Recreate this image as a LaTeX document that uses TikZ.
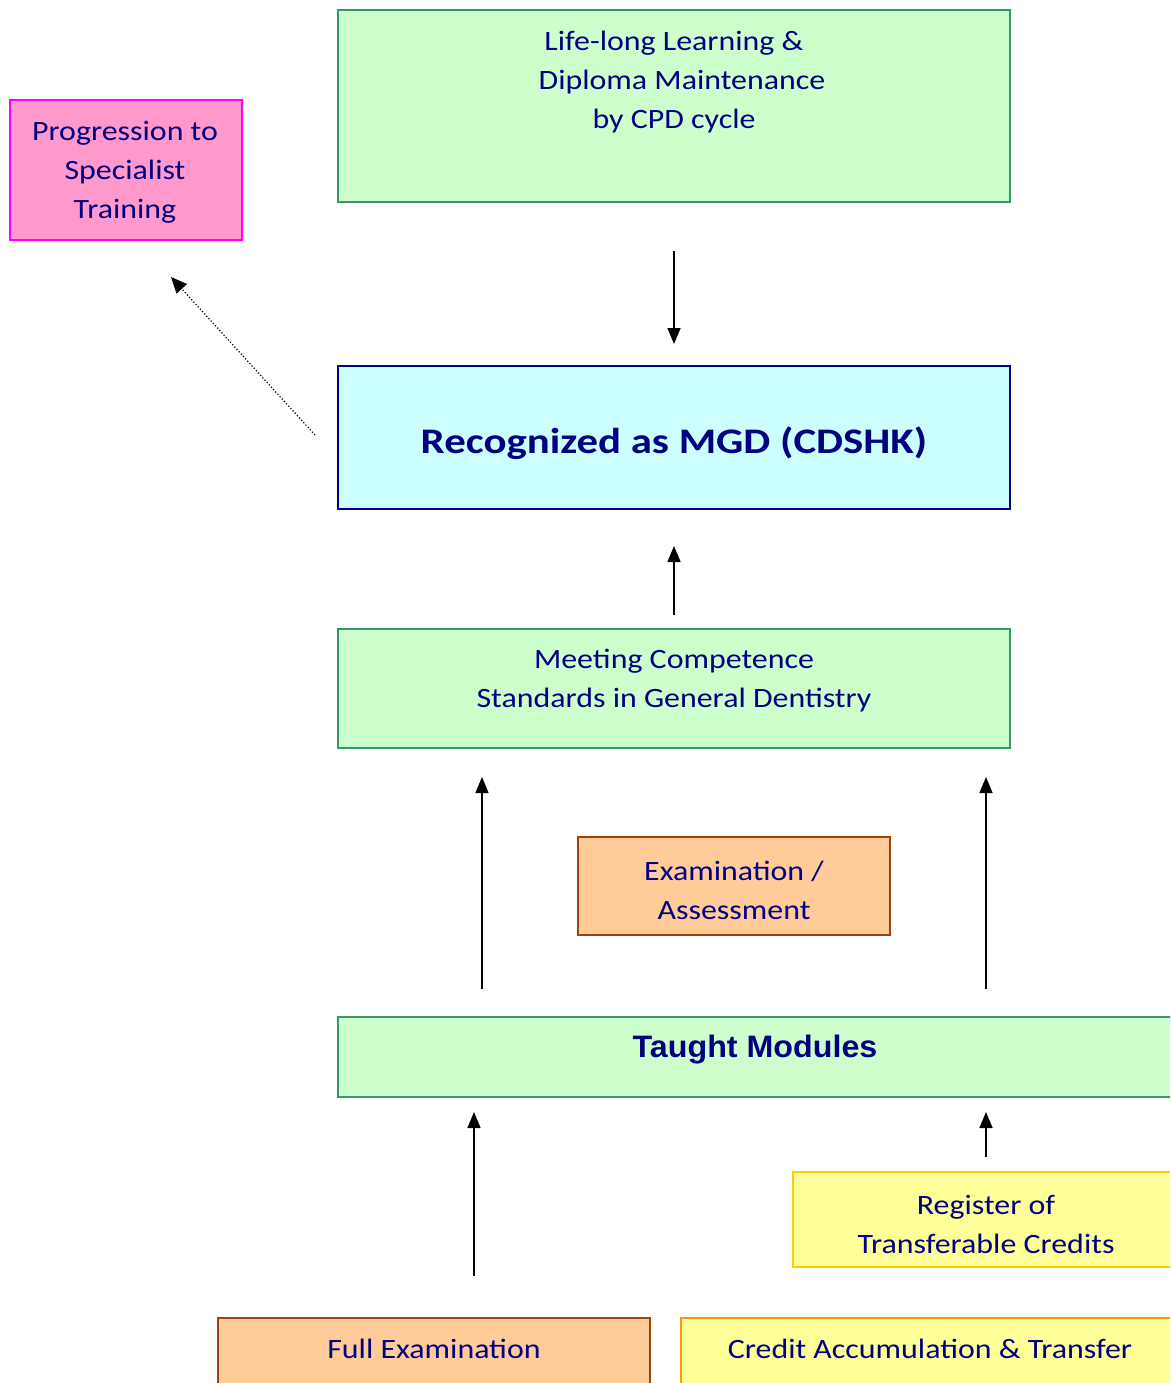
\documentclass[tikz,border=0pt]{standalone}
\usepackage{fontspec}
\setmainfont{Carlito}[FakeStretch=1.14]
\newfontfamily\wideboldfont{Carlito}[FakeStretch=1.19]
\newfontfamily\arialfont{Liberation Sans}[FakeStretch=1.04]
\usetikzlibrary{arrows.meta}
\definecolor{txtnavy}{HTML}{000080}
\definecolor{grfill}{HTML}{CCFFCC}
\definecolor{grline}{HTML}{339966}
\definecolor{pkfill}{HTML}{FF99CC}
\definecolor{pkline}{HTML}{FF00FF}
\definecolor{blfill}{HTML}{CCFFFF}
\definecolor{orfill}{HTML}{FFCC99}
\definecolor{orline}{HTML}{A0420E}
\definecolor{ylfill}{HTML}{FFFF99}
\definecolor{ylline}{HTML}{FFCC00}
\definecolor{ylline2}{HTML}{FF9900}
\tikzset{
  box/.style={draw, line width=2pt, inner sep=0pt},
  greenbox/.style={box, fill=grfill, draw=grline},
  txt/.style={text=txtnavy, align=center, inner sep=0pt, font=\fontsize{28}{39}\selectfont},
  arr/.style={-{Triangle[length=16pt,width=13pt]}, line width=1.5pt, black},
}
\begin{document}
\begin{tikzpicture}[x=1pt,y=-1pt]
\useasboundingbox (0,0) rectangle (1170,1383);
\clip (0,0) rectangle (1170,1383);
% boxes
\node[box, fill=pkfill, draw=pkline, minimum width=232, minimum height=140] (pink) at (126,170) {};
\node[txt] (pinkT) at (125,172) {Progression to\\Specialist\\Training};
\node[greenbox, minimum width=672, minimum height=192] (top) at (674,106) {};
\node[txt] (topT) at (674,82) {Life-long Learning \&\\\hspace*{16pt}Diploma Maintenance\\by CPD cycle};
\node[box, fill=blfill, draw=txtnavy, minimum width=672, minimum height=143] (mgd) at (674,437.5) {};
\node[txt, anchor=base, font=\wideboldfont\bfseries\fontsize{36}{40}\selectfont] (mgdT) at (674,453) {Recognized as MGD (CDSHK)};
\node[greenbox, minimum width=672, minimum height=119] (meet) at (674,688.5) {};
\node[txt] (meetT) at (674,681) {Meeting Competence\\Standards in General Dentistry};
\node[box, fill=orfill, draw=orline, minimum width=312, minimum height=98] (exam) at (734,886) {};
\node[txt] (examT) at (734,890) {Examination /\\Assessment};
\node[greenbox, minimum width=900, minimum height=80] (taught) at (788,1057) {};
\node[txt, anchor=base, font=\arialfont\bfseries\fontsize{31}{36}\selectfont] (taughtT) at (755,1057) {Taught Modules};
\node[box, fill=ylfill, draw=ylline, minimum width=500, minimum height=95] (reg) at (1043,1219.5) {};
\node[txt] (regT) at (986,1224) {Register of\\Transferable Credits};
\node[box, fill=orfill, draw=orline, minimum width=432, minimum height=120] (full) at (434,1378) {};
\node[txt, anchor=base] (fullT) at (434,1358) {Full Examination};
\node[box, fill=ylfill, draw=ylline2, minimum width=600, minimum height=120] (credit) at (981,1378) {};
\node[txt, anchor=base] (creditT) at (930,1358) {Credit Accumulation \& Transfer};
% arrows
\draw[arr, shorten <=48pt, shorten >=21pt] (top.south) -- (mgd.north);
\draw[arr, shorten <=13pt, shorten >=36pt] (meet.north) -- (mgd.south);
\draw[arr, shorten <=27pt, shorten >=28pt] (taught.north -| 482,0) -- (meet.south -| 482,0);
\draw[arr, shorten <=27pt, shorten >=28pt] (taught.north -| 986,0) -- (meet.south -| 986,0);
\draw[arr, shorten <=41pt, shorten >=14pt] (full.north -| 474,0) -- (taught.south -| 474,0);
\draw[arr, shorten <=14pt, shorten >=14pt] (reg.north -| 986,0) -- (taught.south -| 986,0);
\coordinate (dotS) at (315,435);
\coordinate (dotE) at (171,277);
\draw[-{Triangle[length=16pt,width=14pt]}, line width=1.2pt, dotted] (dotS) -- (dotE);
\end{tikzpicture}
\end{document}
